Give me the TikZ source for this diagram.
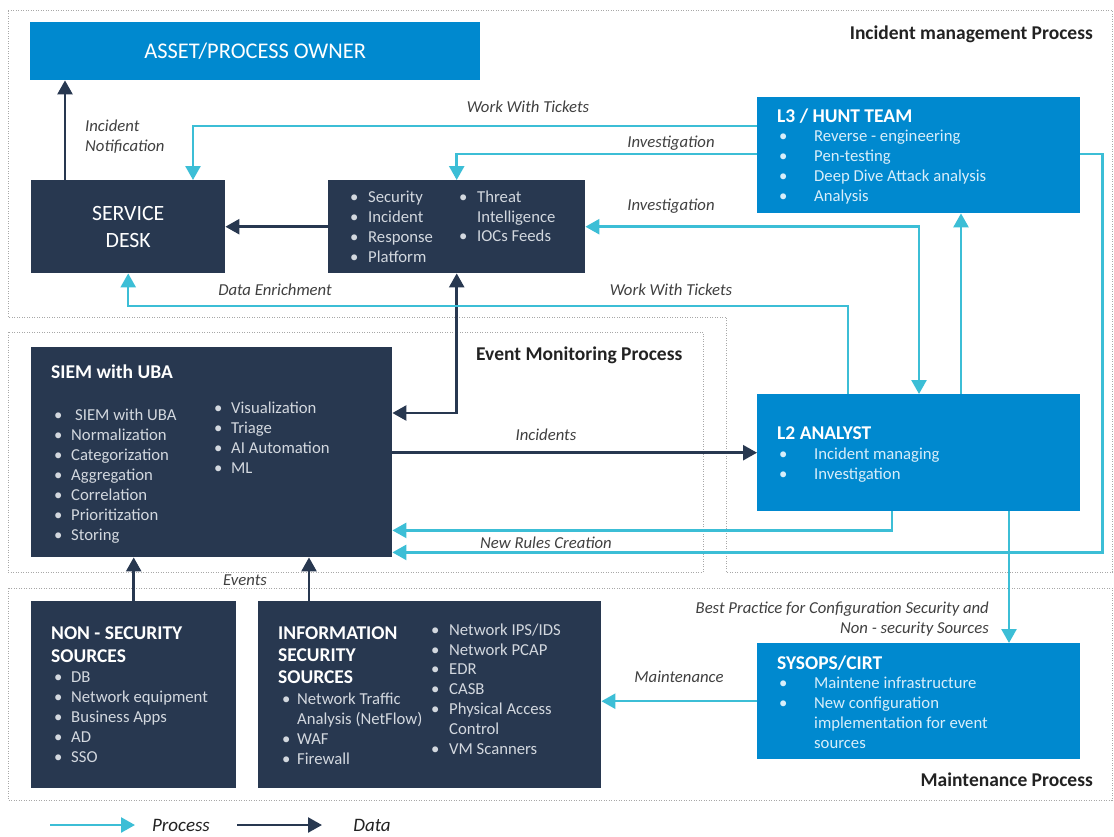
\documentclass[tikz,border=0pt]{standalone}
\usepackage{fontspec}
\setmainfont{Carlito}
\usetikzlibrary{arrows.meta}

\definecolor{navy}{HTML}{283850}
\definecolor{azure}{HTML}{0089CF}
\definecolor{cyanl}{HTML}{3CBED6}
\definecolor{lblc}{HTML}{404040}
\definecolor{headc}{HTML}{222222}
\definecolor{framec}{HTML}{A8A8A8}
\definecolor{ltxt}{HTML}{D3D8DF}
\definecolor{lblue}{HTML}{D8EEFA}

\newcommand{\bul}[1]{\makebox[#1][l]{\textbullet}}
\newcommand{\nobul}[1]{\makebox[#1][l]{}}

\begin{document}
\begin{tikzpicture}[x = 1pt, y = -1pt, >={Triangle[width = 15pt, length = 14pt]},
	darkbox/.style = {fill = navy, anchor = north west, inner sep = 0pt, text = white},
	bluebox/.style = {fill = azure, anchor = north west, inner sep = 0pt, text = white},
	dataline/.style = {draw = navy, line width = 2.5pt, ->},
	procline/.style = {draw = cyanl, line width = 2.5pt, ->},
	ttl/.style = {anchor = west, inner sep = 0pt, text = white, align = left, font = \bfseries\fontsize{19.5}{22}\selectfont},
	itm/.style = {anchor = west, inner sep = 0pt, text height = 12pt, text depth = 3.5pt, text = ltxt, font = \fontsize{16.7}{20}\selectfont},
	bitm/.style = {itm, text = lblue},
	lbl/.style = {inner sep = 0pt, text = lblc, font = \itshape\fontsize{16.7}{20}\selectfont},
	area/.style = {draw = framec, line width = 1pt, dash pattern = on 1pt off 1.5pt},
	areatitle/.style = {inner sep = 0pt, text = headc, font = \bfseries\fontsize{19.5}{22}\selectfont},
	legendtxt/.style = {inner sep = 0pt, text = headc, font = \itshape\fontsize{19}{22}\selectfont}]

	\fill[white] (0,0) rectangle (1114,836);
	\useasboundingbox (0,0) rectangle (1114,836);

	% process areas
	\draw[area] (8,10) -- (1112,10) -- (1112,572) -- (726,572) -- (726,317) -- (8,317) -- cycle;
	\draw[area] (8,332) rectangle (703,572);
	\draw[area] (8,588) rectangle (1112,800);
	\node[areatitle, anchor = east] (imp) at (1093,34) {Incident management Process};
	\node[areatitle, anchor = west] (emp) at (476,355) {Event Monitoring Process};
	\node[areatitle, anchor = east] (mp) at (1093,780) {Maintenance Process};

	% boxes
	\node[bluebox, minimum width = 450pt, minimum height = 58pt, font = \fontsize{22.4}{26}\selectfont] (owner) at (30,22) {ASSET/PROCESS OWNER};
	\node[darkbox, minimum width = 194pt, minimum height = 93pt, align = center, font = \fontsize{21.8}{27}\selectfont] (desk) at (31,180) {SERVICE\\DESK};
	\node[darkbox, minimum width = 257pt, minimum height = 93pt] (sirp) at (328,180) {};
	\node[bluebox, minimum width = 323pt, minimum height = 116pt] (l3) at (757,97) {};
	\node[darkbox, minimum width = 361pt, minimum height = 210pt] (siem) at (31,347) {};
	\node[bluebox, minimum width = 323pt, minimum height = 117pt] (l2) at (757,394) {};
	\node[darkbox, minimum width = 205pt, minimum height = 187pt] (nonsec) at (31,601) {};
	\node[darkbox, minimum width = 343pt, minimum height = 187pt] (infosec) at (258,601) {};
	\node[bluebox, minimum width = 323pt, minimum height = 116pt] (sysops) at (757,643) {};

	% box contents
	\foreach \t [count = \i from 0] in {Security, Incident, Response, Platform}
		\node[itm] (sirpa\i) at (350,198+20*\i) {\bul{18pt}\t};
	\node[itm] (sirpb0) at (459,198) {\bul{18pt}Threat};
	\node[itm] (sirpb1) at (459,218) {\nobul{18pt}Intelligence};
	\node[itm] (sirpb2) at (459,237) {\bul{18pt}IOCs Feeds};

	\node[ttl] (l3t) at (777,116) {L3 / HUNT TEAM};
	\foreach \t [count = \i from 0] in {Reverse - engineering, Pen-testing, Deep Dive Attack analysis, Analysis}
		\node[bitm] (l3i\i) at (779,137+20*\i) {\bul{35pt}\t};

	\node[ttl] (siemt) at (51,372) {SIEM with UBA};
	\node[itm] (siema0) at (54,416) {\bul{21pt}SIEM with UBA};
	\foreach \t [count = \i from 1] in {Normalization, Categorization, Aggregation, Correlation, Prioritization, Storing}
		\node[itm] (siema\i) at (54,416+20*\i) {\bul{17pt}\t};
	\foreach \t [count = \i from 0] in {Visualization, Triage, AI Automation, ML}
		\node[itm] (siemb\i) at (214,409+20*\i) {\bul{17pt}\t};

	\node[ttl] (l2t) at (777,433) {L2 ANALYST};
	\foreach \t [count = \i from 0] in {Incident managing, Investigation}
		\node[bitm] (l2i\i) at (779,455+20*\i) {\bul{35pt}\t};

	\node[ttl, font = \bfseries\fontsize{19.5}{23}\selectfont] (nonsect) at (51,644.5) {NON - SECURITY\\SOURCES};
	\foreach \t [count = \i from 0] in {DB, Network equipment, Business Apps, AD, SSO}
		\node[itm] (nonseci\i) at (54,678+20*\i) {\bul{17pt}\t};

	\node[ttl] (infosect) at (278,655) {INFORMATION\\SECURITY\\SOURCES};
	\node[itm] (infoa0) at (282,700) {\bul{15pt}Network Traffic};
	\node[itm] (infoa1) at (282,720) {\nobul{15pt}Analysis (NetFlow)};
	\node[itm] (infoa2) at (282,740) {\bul{15pt}WAF};
	\node[itm] (infoa3) at (282,760) {\bul{15pt}Firewall};
	\foreach \t [count = \i from 0] in {Network IPS/IDS, Network PCAP, EDR, CASB, Physical Access}
		\node[itm] (infob\i) at (431,631+19.8*\i) {\bul{18pt}\t};
	\node[itm] (infob5) at (431,730) {\nobul{18pt}Control};
	\node[itm] (infob6) at (431,750) {\bul{18pt}VM Scanners};

	\node[ttl] (sysopst) at (777,663) {SYSOPS/CIRT};
	\node[bitm] (sysi0) at (779,684) {\bul{35pt}Maintene infrastructure};
	\node[bitm] (sysi1) at (779,704) {\bul{35pt}New configuration};
	\node[bitm] (sysi2) at (779,724) {\nobul{35pt}implementation for event};
	\node[bitm] (sysi3) at (779,744) {\nobul{35pt}sources};

	% data flows
	\draw[dataline] ([xshift = 34pt]desk.north west) -- ([xshift = 34pt]desk.north west |- owner.south);
	\draw[dataline] (sirp.west) -- (desk.east);
	\draw[dataline, <->] ([yshift = -66pt]siem.north east) -| (sirp.south);
	\draw[dataline] (siem.east |- l2.west) -- (l2.west);
	\draw[dataline] (nonsec.north) -- (nonsec.north |- siem.south);
	\draw[dataline] ([xshift = 51pt]infosec.north west) -- ([xshift = 51pt]infosec.north west |- siem.south);

	% process flows
	\draw[procline] ([yshift = -29pt]l3.north west) -| ([xshift = 162pt]desk.north west);
	\draw[procline] ([yshift = -57pt]l3.north west) -| (sirp.north);
	\draw[procline] ([yshift = -57pt]l3.north east) -- ++(22,0) |- ([yshift = 5pt]siem.south east);
	\draw[procline] ([xshift = 135pt]l2.south west) |- ([yshift = 27pt]siem.south east);
	\draw[procline, <->] (sirp.east) -| ([xshift = 162pt]l2.north west);
	\draw[procline] ([xshift = 204pt]l2.north west) -- ([xshift = 204pt]l3.south west);
	\draw[procline] ([xshift = 91pt]l2.north west) -- ++(0,-88) -| (desk.south);
	\draw[procline] ([xshift = 252pt]l2.south west) -- ([xshift = 252pt]sysops.north west);
	\draw[procline] (sysops.west) -- (sysops.west -| infosec.east);

	% flow labels
	\node[lbl] (wwt1) at (528,107) {Work With Tickets};
	\node[lbl] (inv1) at (671,143) {Investigation};
	\node[lbl] (inv2) at (671,206) {Investigation};
	\node[lbl, anchor = west, align = left] (inot) at (85,137) {Incident\\Notification};
	\node[lbl] (denr) at (275,290) {Data Enrichment};
	\node[lbl] (wwt2) at (671,290) {Work With Tickets};
	\node[lbl] (inc) at (546,435) {Incidents};
	\node[lbl] (nrc) at (546,543) {New Rules Creation};
	\node[lbl] (evt) at (245,580) {Events};
	\node[lbl, anchor = east, align = right] (bpc) at (989,619) {Best Practice for Configuration Security and\\Non - security Sources};
	\node[lbl] (mnt) at (679,677) {Maintenance};

	% legend
	\coordinate (p0) at (50,825);
	\coordinate (p1) at (135,825);
	\coordinate (d0) at (237,825);
	\coordinate (d1) at (322,825);
	\draw[procline] (p0) -- (p1);
	\draw[dataline] (d0) -- (d1);
	\node[legendtxt] (ptxt) at (181,825) {Process};
	\node[legendtxt] (dtxt) at (372,825) {Data};
\end{tikzpicture}
\end{document}
